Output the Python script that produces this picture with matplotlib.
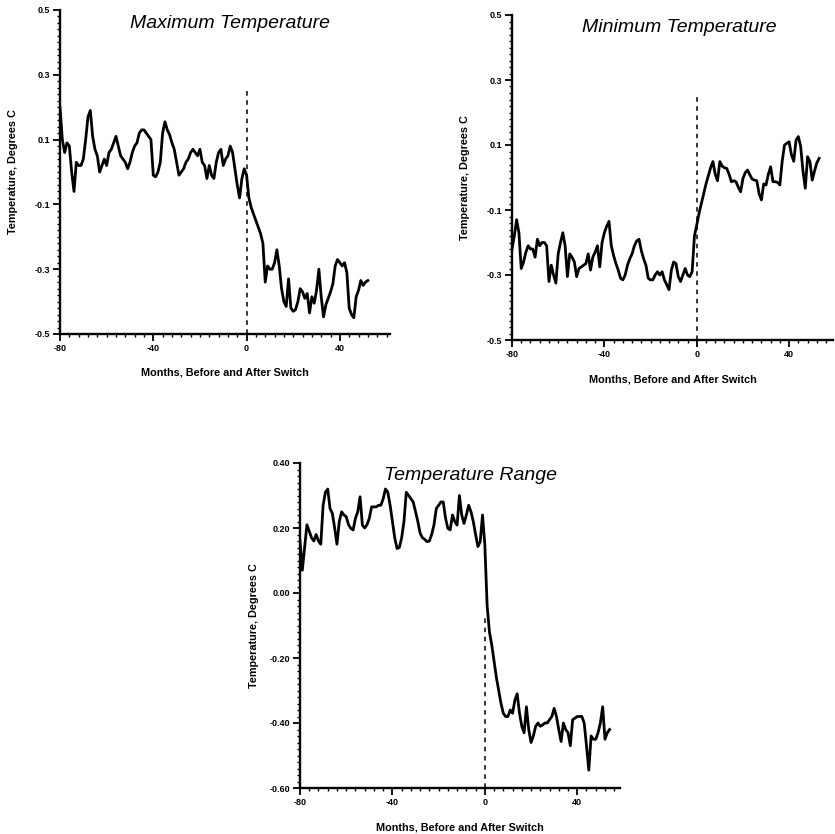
import numpy as np
import matplotlib
matplotlib.use("Agg")
import matplotlib.pyplot as plt
from matplotlib.ticker import MultipleLocator

# ---------------- data ----------------
months_max = list(range(-80, 53))
tmax = [0.20, 0.10, 0.06, 0.09, 0.08, 0.00, -0.06, 0.03, 0.02, 0.02,
        0.04, 0.10, 0.17, 0.19, 0.11, 0.07, 0.05, 0.00, 0.02, 0.04,
        0.02, 0.06, 0.07, 0.09, 0.11, 0.08, 0.05, 0.04, 0.03, 0.01,
        0.03, 0.06, 0.08, 0.09, 0.12, 0.13, 0.13, 0.12, 0.11, 0.10,
        -0.01, -0.015, 0.00, 0.03, 0.12, 0.155, 0.13, 0.115, 0.09, 0.07,
        0.03, -0.01, 0.00, 0.01, 0.03, 0.04, 0.06, 0.07, 0.06, 0.05,
        0.07, 0.03, 0.02, -0.02, 0.02, -0.01, -0.02, 0.03, 0.06, 0.07,
        0.02, 0.04, 0.05, 0.08, 0.06, 0.01, -0.04, -0.08, -0.02, 0.01,
        -0.01, -0.08, -0.11, -0.13, -0.15, -0.17, -0.19, -0.22, -0.34, -0.29,
        -0.30, -0.30, -0.28, -0.24, -0.29, -0.36, -0.40, -0.415, -0.33, -0.42,
        -0.43, -0.425, -0.40, -0.36, -0.37, -0.39, -0.375, -0.435, -0.385, -0.405,
        -0.365, -0.30, -0.385, -0.447, -0.41, -0.39, -0.37, -0.345, -0.29, -0.27,
        -0.28, -0.29, -0.28, -0.31, -0.42, -0.44, -0.45, -0.385, -0.365, -0.335,
        -0.35, -0.34, -0.335]

months_min = list(range(-80, 54))
tmin = [-0.22, -0.18, -0.13, -0.17, -0.28, -0.26, -0.23, -0.21, -0.22, -0.22,
        -0.245, -0.19, -0.21, -0.20, -0.20, -0.21, -0.32, -0.27, -0.30, -0.325,
        -0.235, -0.20, -0.17, -0.21, -0.305, -0.235, -0.245, -0.26, -0.305, -0.28,
        -0.275, -0.27, -0.265, -0.235, -0.285, -0.245, -0.23, -0.21, -0.275, -0.20,
        -0.17, -0.15, -0.135, -0.21, -0.24, -0.265, -0.285, -0.31, -0.315, -0.30,
        -0.27, -0.25, -0.235, -0.21, -0.195, -0.19, -0.225, -0.25, -0.27, -0.31,
        -0.315, -0.315, -0.30, -0.29, -0.30, -0.29, -0.315, -0.33, -0.345, -0.285,
        -0.26, -0.265, -0.305, -0.32, -0.30, -0.28, -0.30, -0.305, -0.29, -0.18,
        -0.146, -0.11, -0.08, -0.05, -0.02, 0.005, 0.03, 0.049, 0.01, -0.01,
        0.049, 0.035, 0.03, 0.028, 0.01, -0.013, -0.01, -0.013, -0.03, -0.044,
        -0.003, 0.015, 0.023, 0.008, -0.005, -0.008, -0.01, -0.05, -0.069, -0.02,
        -0.023, 0.01, 0.033, -0.013, -0.013, -0.015, -0.023, 0.05, 0.10, 0.105,
        0.11, 0.07, 0.05, 0.115, 0.126, 0.095, 0.02, -0.033, 0.064, 0.049,
        -0.008, 0.02, 0.045, 0.059]

months_rng = list(range(-80, 55))
trange = [0.16, 0.07, 0.14, 0.21, 0.19, 0.17, 0.16, 0.18, 0.16, 0.15,
          0.27, 0.31, 0.32, 0.26, 0.245, 0.20, 0.15, 0.22, 0.25, 0.24,
          0.235, 0.21, 0.199, 0.194, 0.23, 0.25, 0.296, 0.209, 0.20, 0.21,
          0.23, 0.265, 0.265, 0.265, 0.27, 0.27, 0.29, 0.32, 0.31, 0.27,
          0.22, 0.17, 0.137, 0.14, 0.17, 0.22, 0.31, 0.30, 0.29, 0.28,
          0.25, 0.22, 0.184, 0.17, 0.165, 0.158, 0.16, 0.18, 0.21, 0.26,
          0.27, 0.28, 0.28, 0.23, 0.199, 0.194, 0.24, 0.22, 0.209, 0.30,
          0.24, 0.214, 0.24, 0.27, 0.25, 0.22, 0.18, 0.143, 0.158, 0.24,
          0.148, -0.04, -0.12, -0.16, -0.21, -0.26, -0.30, -0.34, -0.37, -0.38,
          -0.38, -0.36, -0.37, -0.33, -0.31, -0.37, -0.41, -0.43, -0.35, -0.42,
          -0.46, -0.44, -0.41, -0.40, -0.41, -0.406, -0.40, -0.40, -0.39, -0.38,
          -0.355, -0.38, -0.42, -0.457, -0.40, -0.42, -0.43, -0.47, -0.39, -0.385,
          -0.38, -0.38, -0.38, -0.40, -0.47, -0.545, -0.44, -0.45, -0.45, -0.43,
          -0.40, -0.35, -0.45, -0.43, -0.42]

x_ticks = [-80, -40, 0, 40]
x_ticklabels = ["-80", "-40", "0", "40"]
y_ticks_a = [-0.5, -0.3, -0.1, 0.1, 0.3, 0.5]
y_ticklabels_a = ["-0.5", "-0.3", "-0.1", "0.1", "0.3", "0.5"]
y_ticks_c = [-0.6, -0.4, -0.2, 0.0, 0.2, 0.4]
y_ticklabels_c = ["-0.60", "-0.40", "-0.20", "0.00", "0.20", "0.40"]

titles = ["Maximum Temperature", "Minimum Temperature", "Temperature Range"]
xlabel = "Months, Before and After Switch"
ylabel = "Temperature, Degrees C"

# ---------------- figure ----------------
W, H = 835, 834
fig = plt.figure(figsize=(W / 100, H / 100), dpi=100)
fig.patch.set_facecolor("white")

FONT = "Liberation Sans"


def px_axes(left, top, right, bottom):
    return fig.add_axes([left / W, 1 - bottom / H, (right - left) / W, (bottom - top) / H])


def style(ax, xlim, ylim, yticks, ylabels, yminor, ypad):
    ax.set_xlim(*xlim)
    ax.set_ylim(*ylim)
    for s in ["top", "right"]:
        ax.spines[s].set_visible(False)
    for s in ["left", "bottom"]:
        ax.spines[s].set_linewidth(1.7)
    ax.set_xticks(x_ticks)
    ax.set_xticklabels(x_ticklabels)
    ax.set_yticks(yticks)
    ax.set_yticklabels(ylabels)
    ax.xaxis.set_minor_locator(MultipleLocator(4))
    ax.yaxis.set_minor_locator(MultipleLocator(yminor))
    ax.tick_params(which="major", direction="out", length=5, width=1.3, pad=2)
    ax.tick_params(which="minor", direction="out", length=2.5, width=1.0)
    for lab in ax.get_xticklabels() + ax.get_yticklabels():
        lab.set_fontsize(6.5)
        lab.set_fontweight("bold")
        lab.set_family(FONT)
    ax.set_xlabel(xlabel, fontsize=7.8, fontweight="bold", family=FONT, labelpad=11)
    ax.set_ylabel(ylabel, fontsize=7.8, fontweight="bold", family=FONT, labelpad=ypad)
    ax.patch.set_alpha(0)


LW = 2.0

# Panel 1
ax1 = px_axes(60, 10, 390, 334)
ax1.plot(months_max, tmax, color="black", lw=LW)
ax1.vlines(0, -0.5, 0.26, colors="black", linestyles=(0, (3, 3)), lw=1.1)
style(ax1, (-80, 61.5), (-0.5, 0.5), y_ticks_a, y_ticklabels_a, 0.02, 12)
fig.text(230 / W, 1 - 23 / H, titles[0], ha="center", va="center",
         fontsize=14, style="italic", family=FONT)

# Panel 2
ax2 = px_axes(512, 15, 833, 340)
ax2.plot(months_min, tmin, color="black", lw=LW)
ax2.vlines(0, -0.5, 0.25, colors="black", linestyles=(0, (3, 3)), lw=1.1)
style(ax2, (-80, 59), (-0.5, 0.5), y_ticks_a, y_ticklabels_a, 0.02, 12)
fig.text(679 / W, 1 - 27 / H, titles[1], ha="center", va="center",
         fontsize=14, style="italic", family=FONT)

# Panel 3
ax3 = px_axes(300, 463, 620, 788)
ax3.plot(months_rng, trange, color="black", lw=LW)
ax3.vlines(0, -0.6, -0.07, colors="black", linestyles=(0, (3, 3)), lw=1.1)
style(ax3, (-80, 58.5), (-0.6, 0.4), y_ticks_c, y_ticklabels_c, 0.02, 8)
fig.text(470 / W, 1 - 475 / H, titles[2], ha="center", va="center",
         fontsize=14, style="italic", family=FONT)

fig.savefig("out.png", dpi=100, facecolor="white")
